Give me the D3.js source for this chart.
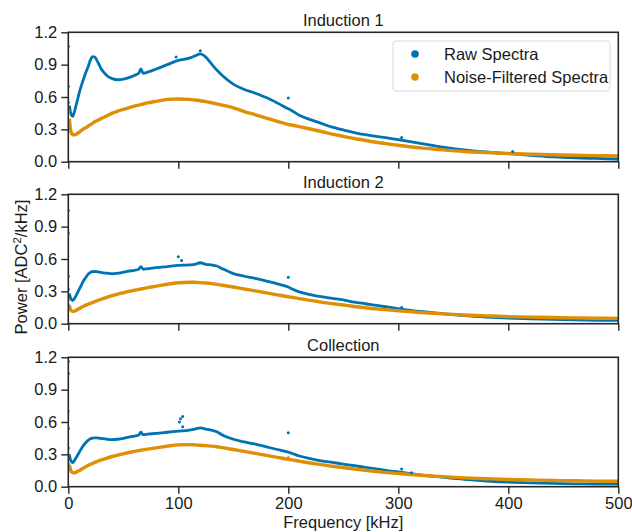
<!DOCTYPE html>
<html><head><meta charset="utf-8">
<script src="https://cdn.jsdelivr.net/npm/d3@7"></script>
<style>body{margin:0;background:#fff}svg{display:block}</style>
</head><body><svg id="c" width="632" height="532"></svg>
<script>
const panelTitles = ["Induction 1", "Induction 2", "Collection"];
const seriesNames = ["Raw Spectra", "Noise-Filtered Spectra"];
const xTicks = [0, 100, 200, 300, 400, 500];
const yTicks = [0.0, 0.3, 0.6, 0.9, 1.2];

const freq = [1,2,4,6,8,10,12,14,16,18,20,22,24,26,28,30,35,40,45,50,55,60,64,66,68,72,80,90,100,110,115,120,125,130,135,140,150,160,170,180,190,200,203,210,220,230,240,250,260,270,280,290,300,320,340,360,380,400,420,440,460,480,500];

const raw1 = [0.52,0.46,0.42,0.48,0.56,0.64,0.71,0.77,0.83,0.88,0.94,0.975,0.97,0.94,0.90,0.86,0.80,0.77,0.76,0.765,0.78,0.80,0.82,0.86,0.82,0.83,0.86,0.90,0.94,0.96,0.98,1.00,0.97,0.91,0.85,0.80,0.72,0.67,0.635,0.595,0.545,0.49,0.475,0.43,0.39,0.355,0.32,0.295,0.27,0.25,0.235,0.22,0.205,0.17,0.135,0.11,0.09,0.075,0.06,0.045,0.035,0.03,0.025];
const filt1 = [0.40,0.30,0.25,0.25,0.26,0.275,0.29,0.305,0.315,0.33,0.343,0.355,0.37,0.38,0.39,0.40,0.425,0.45,0.47,0.485,0.50,0.515,0.525,0.53,0.535,0.545,0.56,0.578,0.582,0.578,0.572,0.565,0.557,0.547,0.536,0.525,0.50,0.465,0.435,0.405,0.375,0.345,0.34,0.325,0.303,0.28,0.256,0.235,0.215,0.197,0.18,0.165,0.152,0.128,0.11,0.095,0.085,0.076,0.069,0.064,0.06,0.056,0.053];
const raw2 = [0.28,0.24,0.215,0.24,0.28,0.32,0.36,0.40,0.43,0.46,0.475,0.482,0.484,0.482,0.478,0.475,0.468,0.463,0.468,0.478,0.488,0.495,0.505,0.53,0.505,0.51,0.52,0.53,0.54,0.545,0.55,0.565,0.55,0.545,0.535,0.51,0.465,0.44,0.42,0.395,0.37,0.34,0.325,0.295,0.27,0.25,0.235,0.22,0.20,0.185,0.17,0.155,0.14,0.113,0.093,0.075,0.062,0.052,0.045,0.04,0.035,0.032,0.03];
const filt2 = [0.17,0.13,0.114,0.118,0.13,0.14,0.152,0.162,0.172,0.18,0.188,0.196,0.204,0.212,0.22,0.227,0.245,0.26,0.274,0.287,0.30,0.31,0.318,0.322,0.326,0.334,0.348,0.366,0.38,0.385,0.384,0.381,0.377,0.372,0.365,0.357,0.34,0.322,0.304,0.286,0.268,0.25,0.245,0.233,0.216,0.20,0.186,0.173,0.16,0.148,0.137,0.128,0.12,0.104,0.091,0.081,0.073,0.066,0.061,0.057,0.054,0.051,0.049];
const raw3 = [0.30,0.25,0.223,0.25,0.285,0.32,0.355,0.385,0.41,0.43,0.445,0.45,0.452,0.452,0.45,0.447,0.44,0.436,0.44,0.448,0.46,0.47,0.48,0.505,0.483,0.487,0.495,0.505,0.515,0.525,0.535,0.545,0.535,0.525,0.51,0.48,0.44,0.415,0.395,0.37,0.345,0.32,0.31,0.285,0.26,0.24,0.225,0.21,0.195,0.18,0.165,0.15,0.137,0.11,0.088,0.068,0.053,0.042,0.035,0.03,0.027,0.025,0.024];
const filt3 = [0.20,0.16,0.13,0.13,0.14,0.15,0.162,0.174,0.186,0.197,0.207,0.216,0.225,0.233,0.241,0.248,0.265,0.28,0.293,0.305,0.317,0.327,0.335,0.338,0.342,0.348,0.36,0.376,0.388,0.39,0.388,0.385,0.381,0.376,0.37,0.362,0.345,0.327,0.309,0.29,0.272,0.254,0.249,0.237,0.22,0.205,0.19,0.177,0.164,0.152,0.141,0.131,0.122,0.106,0.093,0.082,0.074,0.067,0.062,0.058,0.055,0.052,0.05];

// isolated points [frequency, power]
const rawOut1 = [[0,1.07],[0,0.70],[0,0.55],[98,0.97],[120,1.03],[200,0.59],[303,0.225],[404,0.095]];
const filtOut1 = [[0,0.55],[0.5,0.47],[1,0.37]];
const rawOut2 = [[0,1.05],[0,0.84],[0,0.44],[0,0.32],[100,0.62],[103,0.585],[200,0.43],[303,0.15]];
const filtOut2 = [[0,0.22],[0.5,0.17]];
const rawOut3 = [[0,1.16],[0,1.05],[0,0.54],[0,0.36],[101,0.60],[102,0.63],[104,0.65],[104,0.555],[200,0.50],[303,0.165],[312,0.13]];
const filtOut3 = [[0,0.70],[0,0.30],[0.5,0.21],[200,0.27]];

const panels = [
  {title: panelTitles[0], raw: raw1, filt: filt1, rawOut: rawOut1, filtOut: filtOut1},
  {title: panelTitles[1], raw: raw2, filt: filt2, rawOut: rawOut2, filtOut: filtOut2},
  {title: panelTitles[2], raw: raw3, filt: filt3, rawOut: rawOut3, filtOut: filtOut3}
];
const colors = ["#0173B2", "#DE8F05"];
const FONT = "'Liberation Sans', Arial, sans-serif";
const FS = "16.5px";

const svg = d3.select("#c");
const left = 68.3, right = 618.3, ph = 129.4;
const tops = [32.3, 194.3, 357.3];
const x = d3.scaleLinear().domain([0, 500]).range([left, right]);

panels.forEach((p, i) => {
  const top = tops[i];
  const y = d3.scaleLinear().domain([0, 1.2]).range([top + ph, top]);
  const g = svg.append("g");
  const clip = "clip" + i;
  svg.append("clipPath").attr("id", clip).append("rect")
    .attr("x", left).attr("y", top).attr("width", right - left).attr("height", ph);
  const data = g.append("g").attr("clip-path", `url(#${clip})`);
  const line = d3.line().x((d, k) => x(freq[k])).y(d => y(d)).curve(d3.curveMonotoneX);
  data.append("path").attr("d", line(p.raw)).attr("fill", "none")
    .attr("stroke", colors[0]).attr("stroke-width", 2.8);
  data.append("path").attr("d", line(p.filt)).attr("fill", "none")
    .attr("stroke", colors[1]).attr("stroke-width", 3.4);
  data.selectAll(".ro").data(p.rawOut).join("circle")
    .attr("cx", d => x(d[0])).attr("cy", d => y(d[1])).attr("r", 1.5).attr("fill", colors[0]);
  data.selectAll(".fo").data(p.filtOut).join("circle")
    .attr("cx", d => x(d[0])).attr("cy", d => y(d[1])).attr("r", 1.5).attr("fill", colors[1]);

  // frame
  g.append("rect").attr("x", left).attr("y", top).attr("width", right - left).attr("height", ph)
    .attr("fill", "none").attr("stroke", "#262626").attr("stroke-width", 1.6);

  const ya = d3.axisLeft(y).tickValues(yTicks).tickFormat(d3.format(".1f")).tickSize(7).tickPadding(4);
  const yg = g.append("g").attr("transform", `translate(${left},0)`).call(ya);
  const xa = d3.axisBottom(x).tickValues(xTicks).tickSize(7).tickPadding(4)
    .tickFormat(i === 2 ? d3.format("d") : () => "");
  const xg = g.append("g").attr("transform", `translate(0,${top + ph})`).call(xa);
  [yg, xg].forEach(a => {
    a.select(".domain").remove();
    a.selectAll(".tick line").attr("stroke", "#262626").attr("stroke-width", 1.4);
    a.selectAll("text").attr("fill", "#1a1a1a").style("font-family", FONT).style("font-size", FS);
  });

  g.append("text").attr("x", (left + right) / 2).attr("y", top - 6.5).attr("text-anchor", "middle")
    .style("font-family", FONT).style("font-size", FS).attr("fill", "#1a1a1a").text(p.title);
});

// axis labels
svg.append("text").attr("x", (left + right) / 2).attr("y", 527.5).attr("text-anchor", "middle")
  .style("font-family", FONT).style("font-size", FS).attr("fill", "#1a1a1a").text("Frequency [kHz]");
const yl = svg.append("text").attr("transform", "translate(27,267) rotate(-90)").attr("text-anchor", "middle")
  .style("font-family", FONT).style("font-size", FS).attr("fill", "#1a1a1a");
yl.append("tspan").text("Power [ADC");
yl.append("tspan").attr("dy", -6.5).style("font-size", "11.5px").text("2");
yl.append("tspan").attr("dy", 6.5).text("/kHz]");

// legend
const lg = svg.append("g");
lg.append("rect").attr("x", 393).attr("y", 41).attr("width", 217).attr("height", 50).attr("rx", 3)
  .attr("fill", "#fff").attr("fill-opacity", 0.85).attr("stroke", "#d9d9d9").attr("stroke-width", 1);
seriesNames.forEach((n, k) => {
  lg.append("circle").attr("cx", 415).attr("cy", 54 + k * 23).attr("r", 3.8).attr("fill", colors[k]);
  lg.append("text").attr("x", 444).attr("y", 59.5 + k * 23)
    .style("font-family", FONT).style("font-size", FS).attr("fill", "#1a1a1a").text(n);
});
</script></body></html>
